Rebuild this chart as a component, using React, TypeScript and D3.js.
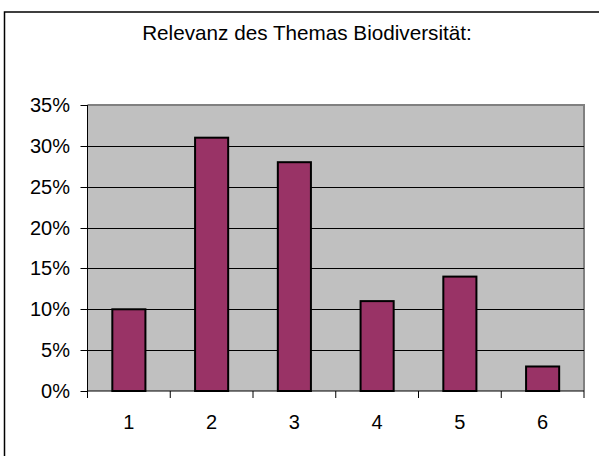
import React from "react";
import * as d3 from "d3";

const categories: string[] = ["1", "2", "3", "4", "5", "6"];
const values: number[] = [0.10, 0.31, 0.28, 0.11, 0.14, 0.03];
const yTicks: number[] = [0, 0.05, 0.1, 0.15, 0.2, 0.25, 0.3, 0.35];
const title = "Relevanz des Themas Biodiversität:";

const W = 599;
const H = 456;
const left = 87.5;
const right = 584;
const top = 105;
const bottom = 391;
const font = "Arial, 'Liberation Sans', sans-serif";

export default function App() {
  const y = d3.scaleLinear().domain([0, 0.35]).range([bottom, top]);
  const x = d3.scaleBand<string>().domain(categories).range([left, right]).paddingInner(0.6).paddingOuter(0.3);
  const step = x.step();
  const fmt = d3.format(".0%");
  return (
    <svg width={W} height={H} style={{ position: "absolute", left: 0, top: 0, background: "#fff" }}>
      <rect x={4.5} y={12} width={800} height={700} fill="#fff" stroke="#000" strokeWidth={1.5} />
      <text x={307} y={40} textAnchor="middle" fontFamily={font} fontSize={20.7} fill="#000">{title}</text>
      <rect x={left} y={top} width={right - left} height={bottom - top} fill="#C0C0C0" />
      <polyline points={`${left},${top} ${right},${top} ${right},${bottom}`} fill="none" stroke="#808080" strokeWidth={2} />
      {yTicks.filter((t) => t > 0 && t < 0.35).map((t) => (
        <line key={"g" + t} x1={left} x2={right} y1={Math.round(y(t)) + 0.5} y2={Math.round(y(t)) + 0.5} stroke="#000" strokeWidth={1} />
      ))}
      {values.map((v, i) => (
        <rect key={"b" + i} x={x(categories[i])!} y={y(v)} width={x.bandwidth()} height={bottom - y(v)} fill="#993366" stroke="#000" strokeWidth={2} />
      ))}
      <line x1={left} x2={left} y1={top} y2={bottom} stroke="#000" strokeWidth={1} />
      <line x1={left} x2={right} y1={bottom} y2={bottom} stroke="#000" strokeWidth={1} />
      {yTicks.map((t) => (
        <g key={"y" + t}>
          <line x1={left - 7} x2={left} y1={Math.round(y(t)) + 0.5} y2={Math.round(y(t)) + 0.5} stroke="#000" strokeWidth={1} />
          <text x={70} y={y(t)} dy="0.35em" textAnchor="end" fontFamily={font} fontSize={20} fill="#000">{fmt(t)}</text>
        </g>
      ))}
      {d3.range(categories.length + 1).map((i) => (
        <line key={"xt" + i} x1={left + i * step} x2={left + i * step} y1={bottom} y2={bottom + 7} stroke="#000" strokeWidth={1} />
      ))}
      {categories.map((c) => (
        <text key={"xl" + c} x={x(c)! + x.bandwidth() / 2} y={429} textAnchor="middle" fontFamily={font} fontSize={20} fill="#000">{c}</text>
      ))}
    </svg>
  );
}
